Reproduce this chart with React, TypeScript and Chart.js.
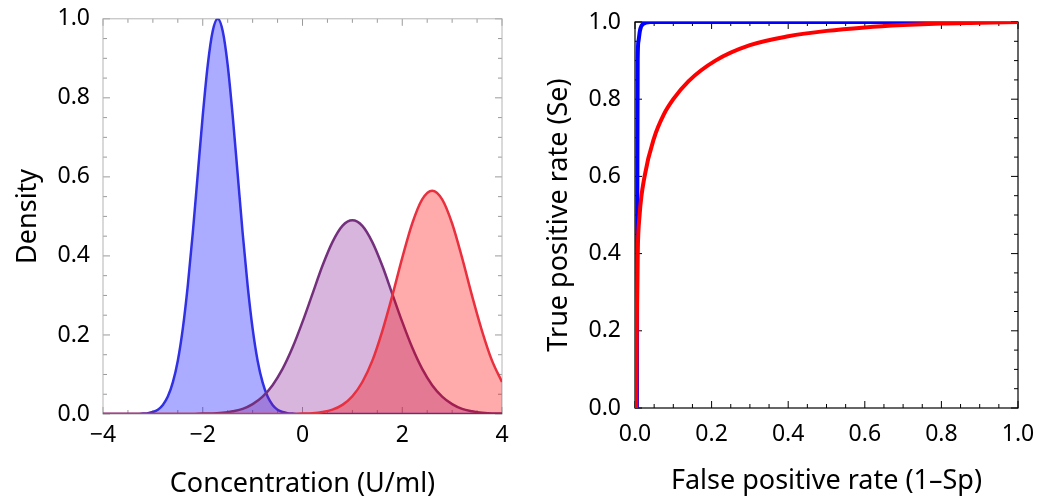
import React, { useEffect, useRef } from 'react';
import { Chart, registerables } from 'chart.js';

Chart.register(...registerables);

const FONT = '"Noto Sans", "DejaVu Sans", sans-serif';

// ---- Left panel: densities ----
const densityXTicks = [-4, -2, 0, 2, 4];
const densityYTicks = [0, 0.2, 0.4, 0.6, 0.8, 1.0];

const blueX = [-4, -3.4, -3.3, -3.2, -3.1, -3.0, -2.9, -2.8, -2.7, -2.6, -2.5, -2.4, -2.3, -2.2, -2.1, -2.0, -1.9, -1.8, -1.7,
  -1.6, -1.5, -1.4, -1.3, -1.2, -1.1, -1.0, -0.9, -0.8, -0.7, -0.6, -0.5, -0.4, -0.3, -0.2, -0.1, 4];
const blueY = [0, 0, 0, 0.001, 0.002, 0.005, 0.011, 0.023, 0.044, 0.08, 0.135, 0.216, 0.325, 0.458, 0.607, 0.755, 0.883, 0.969, 1.0,
  0.969, 0.883, 0.755, 0.607, 0.458, 0.325, 0.216, 0.135, 0.08, 0.044, 0.023, 0.011, 0.005, 0.002, 0.001, 0, 0];

const purpleX = [-4, -2.2, -2.0, -1.8, -1.6, -1.4, -1.2, -1.0, -0.8, -0.6, -0.4, -0.2, 0.0, 0.2, 0.4, 0.6, 0.8, 1.0,
  1.2, 1.4, 1.6, 1.8, 2.0, 2.2, 2.4, 2.6, 2.8, 3.0, 3.2, 3.4, 3.6, 3.8, 4.0];
const purpleY = [0, 0, 0.001, 0.001, 0.003, 0.007, 0.013, 0.025, 0.044, 0.073, 0.114, 0.168, 0.233, 0.304, 0.375, 0.435, 0.476, 0.49,
  0.476, 0.435, 0.375, 0.304, 0.233, 0.168, 0.114, 0.073, 0.044, 0.025, 0.013, 0.007, 0.003, 0.001, 0.001];

const redX = [-4, -0.2, 0.0, 0.2, 0.4, 0.6, 0.8, 1.0, 1.2, 1.4, 1.6, 1.8, 2.0, 2.2, 2.4, 2.6, 2.8, 3.0, 3.2, 3.4, 3.6, 3.8, 4.0];
const redY = [0, 0, 0.001, 0.002, 0.005, 0.011, 0.023, 0.045, 0.081, 0.135, 0.21, 0.299, 0.395, 0.482, 0.543, 0.565,
  0.543, 0.482, 0.395, 0.299, 0.21, 0.135, 0.081];

// ---- Right panel: ROC curves ----
const rocTicks = [0, 0.2, 0.4, 0.6, 0.8, 1.0];

const rocBlueFpr = [0.005, 0.006, 0.007, 0.009, 0.013, 0.02, 0.04, 1.0];
const rocBlueTpr = [0, 0.5, 0.9, 0.95, 0.978, 0.994, 1.0, 1.0];

const rocRedFpr = [0.003, 0.004, 0.005, 0.007, 0.012, 0.025, 0.05, 0.075, 0.1, 0.14, 0.21, 0.3, 0.4, 0.5, 0.6, 0.7, 0.8, 0.9, 1.0];
const rocRedTpr = [0, 0.1, 0.25, 0.4, 0.5, 0.6, 0.7, 0.76, 0.8, 0.847, 0.9, 0.94, 0.963, 0.977, 0.986, 0.992, 0.996, 0.998, 1.0];

const pts = (xs: number[], ys: number[]) => xs.map((x, i) => ({ x, y: ys[i] }));

const fmtSigned = (v: number) => (v < 0 ? '\u2212' + Math.abs(v) : String(v));

const frameTicksPlugin = {
  id: 'frameTicks',
  beforeDatasetsDraw(chart: any, _args: any, o: any) {
    const { ctx, chartArea } = chart;
    const { left, right, top, bottom } = chartArea;
    const xs = chart.scales.x;
    const ys = chart.scales.y;
    const steps = (min: number, max: number, step: number) => {
      const out: number[] = [];
      const n = Math.round((max - min) / step);
      for (let i = 0; i <= n; i++) out.push(min + i * step);
      return out;
    };
    const isMajor = (arr: number[], v: number) => arr.some((m) => Math.abs(m - v) < 1e-9);
    ctx.save();
    ctx.strokeStyle = o.tickColor;
    ctx.lineWidth = o.tickWidth;
    ctx.beginPath();
    for (const v of steps(xs.min, xs.max, o.xMinorStep)) {
      const len = isMajor(o.xMajor, v) ? o.majorLen : o.minorLen;
      const px = xs.getPixelForValue(v);
      ctx.moveTo(px, bottom);
      ctx.lineTo(px, bottom - len);
      ctx.moveTo(px, top);
      ctx.lineTo(px, top + len);
    }
    for (const v of steps(ys.min, ys.max, o.yMinorStep)) {
      const len = isMajor(o.yMajor, v) ? o.majorLen : o.minorLen;
      const py = ys.getPixelForValue(v);
      ctx.moveTo(left, py);
      ctx.lineTo(left + len, py);
      ctx.moveTo(right, py);
      ctx.lineTo(right - len, py);
    }
    ctx.stroke();
    ctx.strokeStyle = o.frameColor;
    ctx.lineWidth = o.frameWidth;
    ctx.strokeRect(left, top, right - left, bottom - top);
    ctx.restore();
  },
};

function densityConfig(): any {
  return {
    type: 'line',
    data: {
      datasets: [
        {
          data: pts(redX, redY),
          borderColor: '#e8303f',
          backgroundColor: 'rgba(255,0,0,0.33)',
          fill: 'origin',
          borderWidth: 2.5,
          pointRadius: 0,
          cubicInterpolationMode: 'monotone',
        },
        {
          data: pts(purpleX, purpleY),
          borderColor: '#74307c',
          backgroundColor: 'rgba(135,30,150,0.33)',
          fill: 'origin',
          borderWidth: 2.5,
          pointRadius: 0,
          cubicInterpolationMode: 'monotone',
        },
        {
          data: pts(blueX, blueY),
          borderColor: '#3030e4',
          backgroundColor: 'rgba(0,0,255,0.33)',
          fill: 'origin',
          borderWidth: 2.5,
          pointRadius: 0,
          cubicInterpolationMode: 'monotone',
        },
      ],
    },
    options: {
      responsive: false,
      animation: false,
      layout: { padding: { left: 0, top: 15, right: 28, bottom: 0 } },
      plugins: {
        legend: { display: false },
        tooltip: { enabled: false },
        frameTicks: {
          frameColor: '#b4b4b4',
          frameWidth: 1,
          tickColor: '#9a9a9a',
          tickWidth: 1,
          majorLen: 7,
          minorLen: 4,
          xMajor: densityXTicks,
          yMajor: densityYTicks,
          xMinorStep: 0.5,
          yMinorStep: 0.05,
        },
      },
      scales: {
        x: {
          type: 'linear',
          min: -4,
          max: 4,
          afterBuildTicks: (s: any) => {
            s.ticks = densityXTicks.map((v) => ({ value: v }));
          },
          afterFit: (s: any) => {
            s.height = 82;
          },
          grid: { display: false },
          border: { display: false },
          ticks: {
            padding: 0,
            color: '#000',
            maxRotation: 0,
            autoSkip: false,
            font: { family: FONT, size: 23 },
            callback: (v: any) => fmtSigned(Number(v)),
          },
          title: {
            display: true,
            text: 'Concentration (U/ml)',
            color: '#000',
            font: { family: FONT, size: 27, lineHeight: 1.2 },
            padding: { top: 0, bottom: -5 },
          },
        },
        y: {
          type: 'linear',
          min: 0,
          max: 1,
          afterBuildTicks: (s: any) => {
            s.ticks = densityYTicks.map((v) => ({ value: v }));
          },
          afterFit: (s: any) => {
            s.width = 103;
          },
          grid: { display: false },
          border: { display: false },
          ticks: {
            padding: 5,
            color: '#000',
            autoSkip: false,
            font: { family: FONT, size: 23 },
            callback: (v: any) => Number(v).toFixed(1),
          },
          title: {
            display: true,
            text: 'Density',
            color: '#000',
            font: { family: FONT, size: 27, lineHeight: 1.2 },
            padding: { top: 12.6, bottom: 0 },
          },
        },
      },
    },
    plugins: [frameTicksPlugin],
  };
}

function rocConfig(): any {
  return {
    type: 'line',
    data: {
      datasets: [
        {
          data: pts(rocRedFpr, rocRedTpr),
          borderColor: '#ff0000',
          borderWidth: 4,
          pointRadius: 0,
          fill: false,
          cubicInterpolationMode: 'monotone',
        },
        {
          data: pts(rocBlueFpr, rocBlueTpr),
          borderColor: '#0000ff',
          borderWidth: 4,
          pointRadius: 0,
          fill: false,
          cubicInterpolationMode: 'monotone',
        },
      ],
    },
    options: {
      responsive: false,
      animation: false,
      layout: { padding: { left: 0, top: 22, right: 39, bottom: 0 } },
      plugins: {
        legend: { display: false },
        tooltip: { enabled: false },
        frameTicks: {
          frameColor: '#000',
          frameWidth: 1.2,
          tickColor: '#000',
          tickWidth: 1,
          majorLen: 7,
          minorLen: 4,
          xMajor: rocTicks,
          yMajor: rocTicks,
          xMinorStep: 0.05,
          yMinorStep: 0.05,
        },
      },
      scales: {
        x: {
          type: 'linear',
          min: 0,
          max: 1,
          afterBuildTicks: (s: any) => {
            s.ticks = rocTicks.map((v) => ({ value: v }));
          },
          afterFit: (s: any) => {
            s.height = 88;
          },
          grid: { display: false },
          border: { display: false },
          ticks: {
            padding: 5,
            color: '#000',
            maxRotation: 0,
            autoSkip: false,
            font: { family: FONT, size: 23 },
            callback: (v: any) => Number(v).toFixed(1),
          },
          title: {
            display: true,
            text: 'False positive rate (1–Sp)',
            color: '#000',
            font: { family: FONT, size: 27, lineHeight: 1.2 },
            padding: { top: 0, bottom: -2 },
          },
        },
        y: {
          type: 'linear',
          min: 0,
          max: 1,
          afterBuildTicks: (s: any) => {
            s.ticks = rocTicks.map((v) => ({ value: v }));
          },
          afterFit: (s: any) => {
            s.width = 105;
          },
          grid: { display: false },
          border: { display: false },
          ticks: {
            padding: 6,
            color: '#000',
            autoSkip: false,
            font: { family: FONT, size: 23 },
            callback: (v: any) => Number(v).toFixed(1),
          },
          title: {
            display: true,
            text: 'True positive rate (Se)',
            color: '#000',
            font: { family: FONT, size: 27, lineHeight: 1.2 },
            padding: { top: 13.6, bottom: 0 },
          },
        },
      },
    },
    plugins: [frameTicksPlugin],
  };
}

export default function App() {
  const leftRef = useRef<HTMLCanvasElement>(null);
  const rightRef = useRef<HTMLCanvasElement>(null);

  useEffect(() => {
    const c1 = new Chart(leftRef.current as HTMLCanvasElement, densityConfig());
    const c2 = new Chart(rightRef.current as HTMLCanvasElement, rocConfig());
    return () => {
      c1.destroy();
      c2.destroy();
    };
  }, []);

  return (
    <div
      style={{
        position: 'absolute',
        left: 0,
        top: 0,
        width: 1057,
        height: 496,
        background: '#fff',
        overflow: 'hidden',
      }}
    >
      <canvas
        ref={leftRef}
        width={530}
        height={496}
        style={{ position: 'absolute', left: 0, top: 0, width: 530, height: 496 }}
      />
      <canvas
        ref={rightRef}
        width={527}
        height={496}
        style={{ position: 'absolute', left: 530, top: 0, width: 527, height: 496 }}
      />
    </div>
  );
}
